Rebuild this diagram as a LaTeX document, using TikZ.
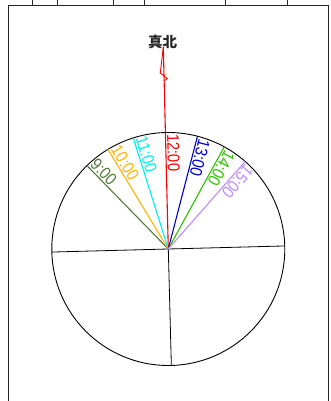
\documentclass[tikz,border=0pt]{standalone}
\usepackage{fontspec}
\newfontfamily\lblfont[FakeStretch=0.88]{Liberation Sans}
\newfontfamily\cjk{Noto Sans CJK JP}
\usepackage{xcolor}
\definecolor{c9}{RGB}{84,122,60}
\definecolor{c10}{RGB}{255,180,0}
\definecolor{c11}{RGB}{0,240,240}
\definecolor{c12}{RGB}{255,0,0}
\definecolor{c13}{RGB}{0,0,200}
\definecolor{c14}{RGB}{50,190,0}
\definecolor{c15}{RGB}{190,140,255}
\usetikzlibrary{calc}

\begin{document}
\begin{tikzpicture}[x=1bp, y=1bp,
  frame/.style={draw=black!85, line width=1bp},
  hr/.style={line width=1.1bp},
  lbl/.style={anchor=south west, inner sep=1.5bp,
              font=\lblfont\fontsize{17bp}{19bp}\selectfont}
]
\useasboundingbox (0,0) rectangle (331,401);

% frame
\draw[frame] (8,0) -- (8,395.5) -- (328.3,395.5) -- (328.3,0);
\draw[frame] (32.7,395.5) -- (32.7,401);
\draw[frame] (57.3,395.5) -- (57.3,401);
\draw[frame] (113.3,395.5) -- (113.3,401);
\draw[frame] (144,395.5) -- (144,401);
\draw[frame] (225,395.5) -- (225,401);
\draw[frame] (287.3,395.5) -- (287.3,401);

% dial
\def\R{116.5}
\coordinate (o) at (168.3,152);
\draw[line width=0.9bp] (o) circle (\R);
\coordinate (w) at ($(o)+(181.5:\R)$);
\coordinate (e) at ($(o)+(1.5:\R)$);
\coordinate (s) at ($(o)+(-88.5:\R)$);
\draw[line width=0.8bp] (w) -- (e);
\draw[line width=0.8bp] (o) -- (s);

% true north
\coordinate (tn) at (163.3,354);
\node[font=\cjk\bfseries\fontsize{14.5bp}{16bp}\selectfont, text=black!85] (tnl) at (162.7,359.5) {真北};
\draw[hr, c12] (o) -- (tn);
\draw[c12, line width=0.9bp] (tn) -- (160.3,328) -- (167.3,322.5) -- (164,320);

% hours
\coordinate (h9) at ($(o)+(134.3:\R)$);
\coordinate (h10) at ($(o)+(121.2:\R)$);
\coordinate (h11) at ($(o)+(107.5:\R)$);
\coordinate (h12) at ($(o)+(91.5:\R)$);
\coordinate (h13) at ($(o)+(75.5:\R)$);
\coordinate (h14) at ($(o)+(61.3:\R)$);
\coordinate (h15) at ($(o)+(48.7:\R)$);

\draw[hr, c9] (o) -- (h9);
\draw[hr, c10] (o) -- (h10);
\draw[hr, c11] (o) -- (h11);
\draw[hr, c13] (o) -- (h13);
\draw[hr, c14] (o) -- (h14);
\draw[hr, c15] (o) -- (h15);

\node[lbl, text=c9, rotate=314.3] (l9) at (h9) {9:00};
\node[lbl, text=c10, rotate=301.2] (l10) at (h10) {10:00};
\node[lbl, text=c11, rotate=287.5] (l11) at (h11) {11:00};
\node[lbl, text=c12, rotate=271.5] (l12) at (h12) {12:00};
\node[lbl, text=c13, rotate=255.5] (l13) at (h13) {13:00};
\node[lbl, text=c14, rotate=241.3] (l14) at (h14) {14:00};
\node[lbl, text=c15, rotate=228.7] (l15) at (h15) {15:00};
\end{tikzpicture}
\end{document}
